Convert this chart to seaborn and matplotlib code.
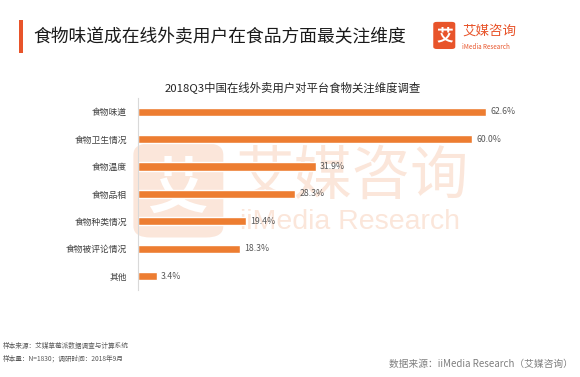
import matplotlib
matplotlib.use('Agg')
import matplotlib.pyplot as plt
import seaborn as sns
import pandas as pd
from matplotlib.patches import FancyBboxPatch, Rectangle

# data
categories = ['食物味道', '食物卫生情况', '食物温度', '食物品相', '食物种类情况', '食物被评论情况', '其他']
values = [62.6, 60.0, 31.9, 28.3, 19.4, 18.3, 3.4]

main_title = '食物味道成在线外卖用户在食品方面最关注维度'
chart_title = '2018Q3中国在线外卖用户对平台食物关注维度调查'
note1 = '样本来源：艾媒草莓派数据调查与计算系统'
note2 = '样本量：N=1830；调研时间：2018年9月'
source = '数据来源：iiMedia Research（艾媒咨询）'

sns.set_style('white')
plt.rcParams['font.family'] = ['Noto Sans CJK SC', 'DejaVu Sans']

df = pd.DataFrame({'cat': categories, 'val': values})

orange = '#ED7D31'
peach = '#FBE6DA'

fig = plt.figure(figsize=(5.8, 3.77), dpi=100)
ax = fig.add_axes([0.238, 0.231, 0.659, 0.509])
ax.patch.set_alpha(0)

sns.barplot(data=df, y='cat', x='val', orient='h', color=orange, width=0.3,
            saturation=1, ax=ax, zorder=2)
for c in ax.containers:
    ax.bar_label(c, labels=[f'{v:.1f}%' for v in values], padding=3,
                 fontsize=6.3, color='#595959')

ax.set_xlim(0, 68.7)
ax.set_ylim(6.5, -0.5)
ax.set_xlabel('')
ax.set_ylabel('')
ax.set_xticks([])
ax.tick_params(axis='y', length=0, pad=8, labelsize=6.3, labelcolor='#404040')
for s in ['top', 'right', 'bottom']:
    ax.spines[s].set_visible(False)
ax.spines['left'].set_color('#D9D9D9')
ax.spines['left'].set_linewidth(0.8)

# watermark
fig.patches.append(FancyBboxPatch((0.23, 0.37), 0.155, 0.25, boxstyle='round,pad=0,rounding_size=0.03',
                                  transform=fig.transFigure, facecolor=peach, edgecolor='none', zorder=-2))
fig.text(0.307, 0.495, '艾', fontsize=44, color='white', ha='center', va='center', zorder=-1, fontweight='bold')
fig.text(0.607, 0.53, '艾媒咨询', fontsize=42, color=peach, ha='center', va='center', zorder=-1)
fig.text(0.603, 0.41, 'iiMedia Research', fontsize=20.5, color=peach, ha='center', va='center',
         family='Liberation Sans', zorder=-1)

# header
fig.patches.append(Rectangle((0.033, 0.86), 0.007, 0.088, transform=fig.transFigure,
                             facecolor='#E8542A', edgecolor='none'))
fig.text(0.057, 0.902, main_title, fontsize=12.8, color='#1a1a1a', ha='left', va='center')
fig.patches.append(FancyBboxPatch((0.747, 0.87), 0.038, 0.072, boxstyle='round,pad=0,rounding_size=0.006',
                                  transform=fig.transFigure, facecolor='#E8542A', edgecolor='none'))
fig.text(0.766, 0.905, '艾', fontsize=12, color='white', ha='center', va='center', fontweight='bold')
fig.text(0.797, 0.918, '艾媒咨询', fontsize=9.7, color='#E8542A', ha='left', va='center')
fig.text(0.797, 0.875, 'iMedia Research', fontsize=4.5, color='#E8542A', ha='left', va='center')

fig.text(0.505, 0.769, chart_title, fontsize=8.2, color='#262626', ha='center', va='center')

# footer
fig.text(0.005, 0.083, note1, fontsize=4.8, color='#595959', ha='left', va='center')
fig.text(0.005, 0.048, note2, fontsize=4.8, color='#595959', ha='left', va='center')
fig.text(0.988, 0.034, source, fontsize=7, color='#7f7f7f', ha='right', va='center')

fig.savefig('out.png', dpi=100)
plt.close()
